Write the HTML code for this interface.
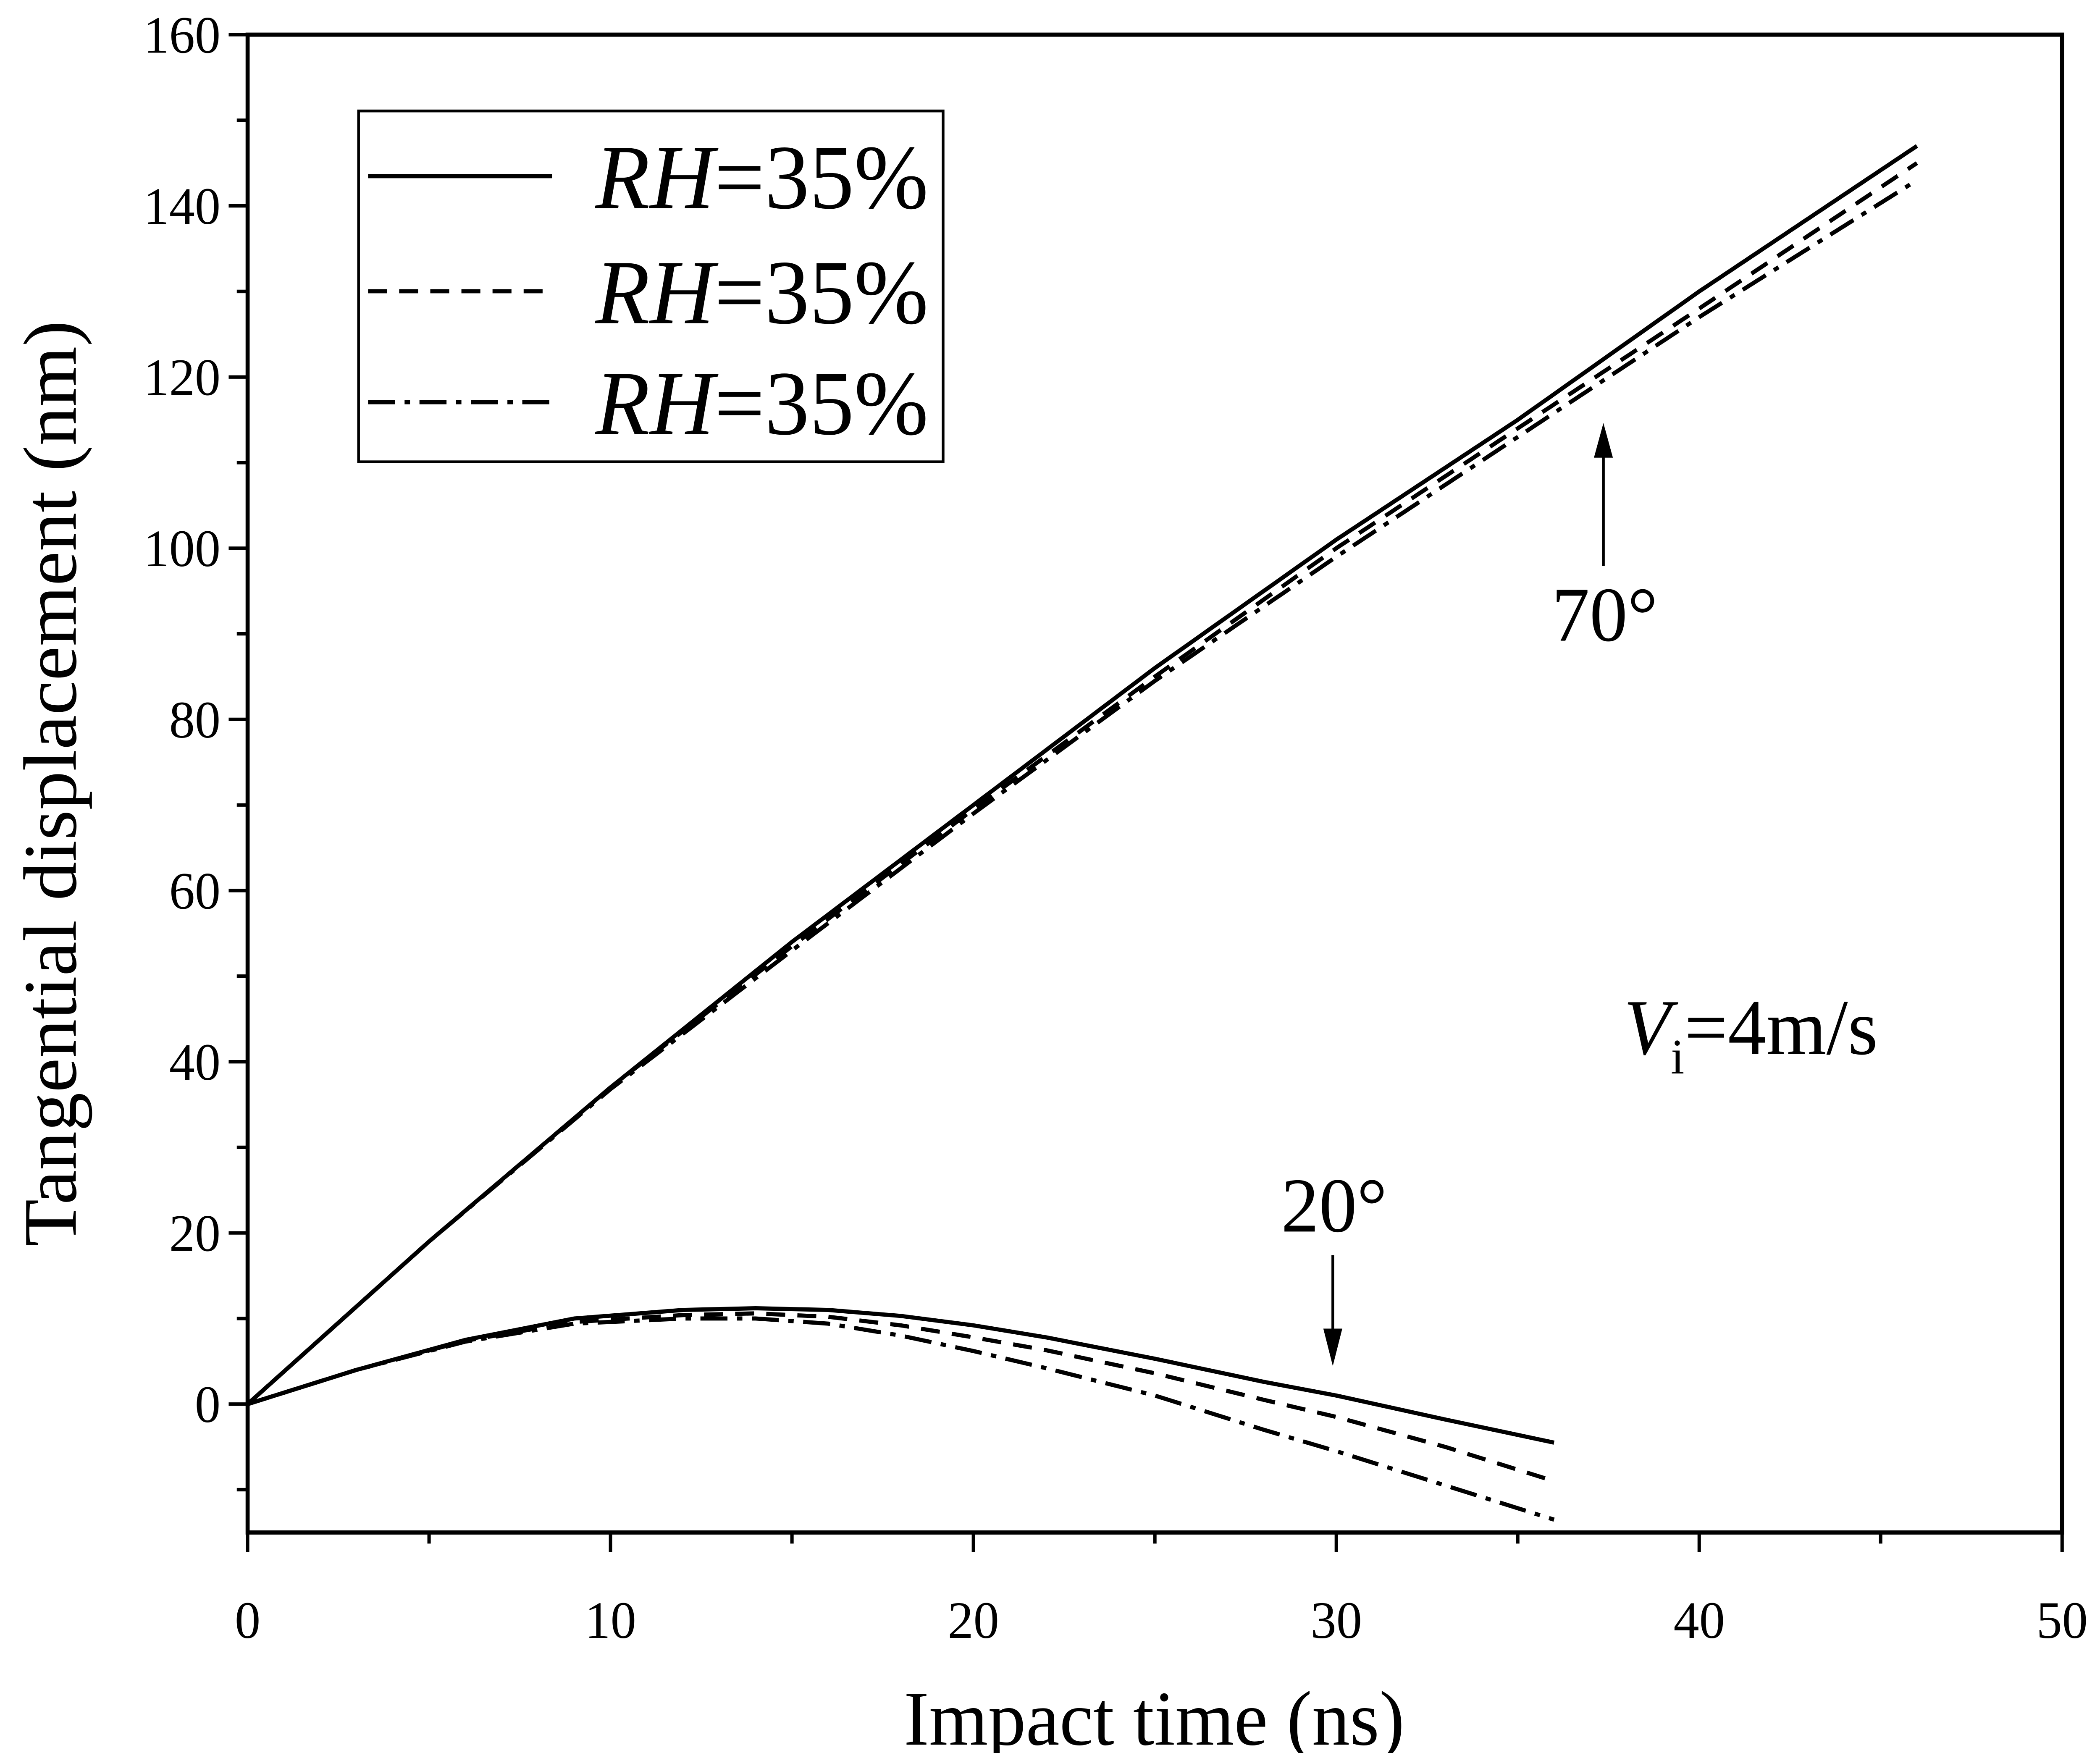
<!DOCTYPE html>
<html><head><meta charset="utf-8"><style>
html,body{margin:0;padding:0;background:#fff;overflow:hidden;width:100%;height:100%;}
svg{display:block;width:100vw;height:100vh;}
text{font-family:"Liberation Serif",serif;fill:#000;}
</style></head><body>
<svg id="chart" viewBox="0 0 1552 1264" preserveAspectRatio="none" xmlns="http://www.w3.org/2000/svg">
<rect x="0" y="0" width="1552" height="1264" fill="#fff"/>
<g id="axes"></g>
<g id="series"></g>
<g>
<rect x="265" y="80" width="432" height="253" fill="none" stroke="#000" stroke-width="2"/>
<line x1="272" y1="127" x2="408" y2="127" stroke="#000" stroke-width="3"/>
<line x1="272" y1="210" x2="408" y2="210" stroke="#000" stroke-width="3" stroke-dasharray="14,9"/>
<line x1="272" y1="290" x2="408" y2="290" stroke="#000" stroke-width="3" stroke-dasharray="20,7,4,7"/>
<text x="440" y="150" font-size="66"><tspan font-style="italic">RH</tspan>=35%</text>
<text x="440" y="233" font-size="66"><tspan font-style="italic">RH</tspan>=35%</text>
<text x="440" y="313" font-size="66"><tspan font-style="italic">RH</tspan>=35%</text>
</g>
<g>
<line x1="1185" y1="408" x2="1185" y2="320" stroke="#000" stroke-width="2"/>
<polygon points="1185,305 1178,330 1192,330" fill="#000"/>
<text x="1186" y="462" font-size="56" text-anchor="middle">70°</text>
<text x="986" y="888" font-size="56" text-anchor="middle">20°</text>
<line x1="985" y1="905" x2="985" y2="965" stroke="#000" stroke-width="2"/>
<polygon points="985,985 978,958 992,958" fill="#000"/>
<text x="1200" y="760" font-size="57"><tspan font-style="italic">V</tspan><tspan font-size="36" dy="14">i</tspan><tspan dy="-14">=4m/s</tspan></text>
</g>
<text x="853" y="1258" font-size="56" text-anchor="middle">Impact time (ns)</text>
<text transform="translate(56,565) rotate(-90)" font-size="56" text-anchor="middle">Tangential displacement (nm)</text>
</svg>
<script>
const xTicks=[0,10,20,30,40,50];
const yTicks=[0,20,40,60,80,100,120,140,160];
const t70=[0,5,10,15,20,25,30,35,40,46];
const s70a=[0,19,37,54,70,86,101,115,130,147];
const s70b=[0,19,37,53.5,69.5,85,100,114,128,145];
const s70c=[0,19,36.8,53,69,84.5,99,113,127,143];
const t20=[0,3,6,9,12,14,16,18,20,22,25,28,30,33,36];
const s20a=[0,4,7.5,10,11,11.2,11,10.3,9.2,7.8,5.3,2.6,1,-1.8,-4.5];
const s20b=[0,4,7.4,9.6,10.4,10.6,10.2,9.2,7.8,6.3,3.6,0.5,-1.5,-5,-9];
const s20c=[0,4,7.3,9.4,10,10,9.4,8,6.2,4.2,1,-3,-5.5,-9.5,-13.5];
const L=183,R=1524,T=25,B=1105,xmin=0,xmax=50,ymin=-15,ymax=160;
const X=v=>L+(v-xmin)/(xmax-xmin)*(R-L);
const Y=v=>B-(v-ymin)/(ymax-ymin)*(B-T);
const NS='http://www.w3.org/2000/svg';
function mk(tag,attrs,parent){const e=document.createElementNS(NS,tag);for(const k in attrs)e.setAttribute(k,attrs[k]);parent.appendChild(e);return e;}
const ax=document.getElementById('axes');
const frame=mk('rect',{x:L,y:T,width:R-L,height:B-T,fill:'none',stroke:'#000','stroke-width':3},ax);


for(let v=0;v<=50;v+=5){const maj=v%10===0;const l=mk('line',{x1:X(v),x2:X(v),y1:B,y2:B+(maj?14:8),stroke:'#000','stroke-width':2.5},ax);

}
xTicks.forEach(v=>{const t=mk('text',{x:X(v),y:B+76,'font-size':38,'text-anchor':'middle'},ax);t.textContent=v;

});
for(let v=-10;v<=160;v+=10){const maj=v%20===0;const l=mk('line',{x1:L-(maj?14:8),x2:L,y1:Y(v),y2:Y(v),stroke:'#000','stroke-width':2.5},ax);

}
yTicks.forEach(v=>{const t=mk('text',{x:L-20,y:Y(v)+13,'font-size':38,'text-anchor':'end'},ax);t.textContent=v;

});
const sg=document.getElementById('series');
function line(xs,ys,dash,name){const p=mk('polyline',{points:xs.map((x,i)=>X(x)+','+Y(ys[i])).join(' '),fill:'none',stroke:'#000','stroke-width':3,'stroke-linejoin':'round'},sg);
if(dash)p.setAttribute('stroke-dasharray',dash);

}
line(t70,s70a,null,'series-70deg-solid');
line(t70,s70b,'14,9','series-70deg-dashed');
line(t70,s70c,'20,7,4,7','series-70deg-dashdot');
line(t20,s20a,null,'series-20deg-solid');
line(t20,s20b,'14,9','series-20deg-dashed');
line(t20,s20c,'20,7,4,7','series-20deg-dashdot');
</script>
</body></html>
